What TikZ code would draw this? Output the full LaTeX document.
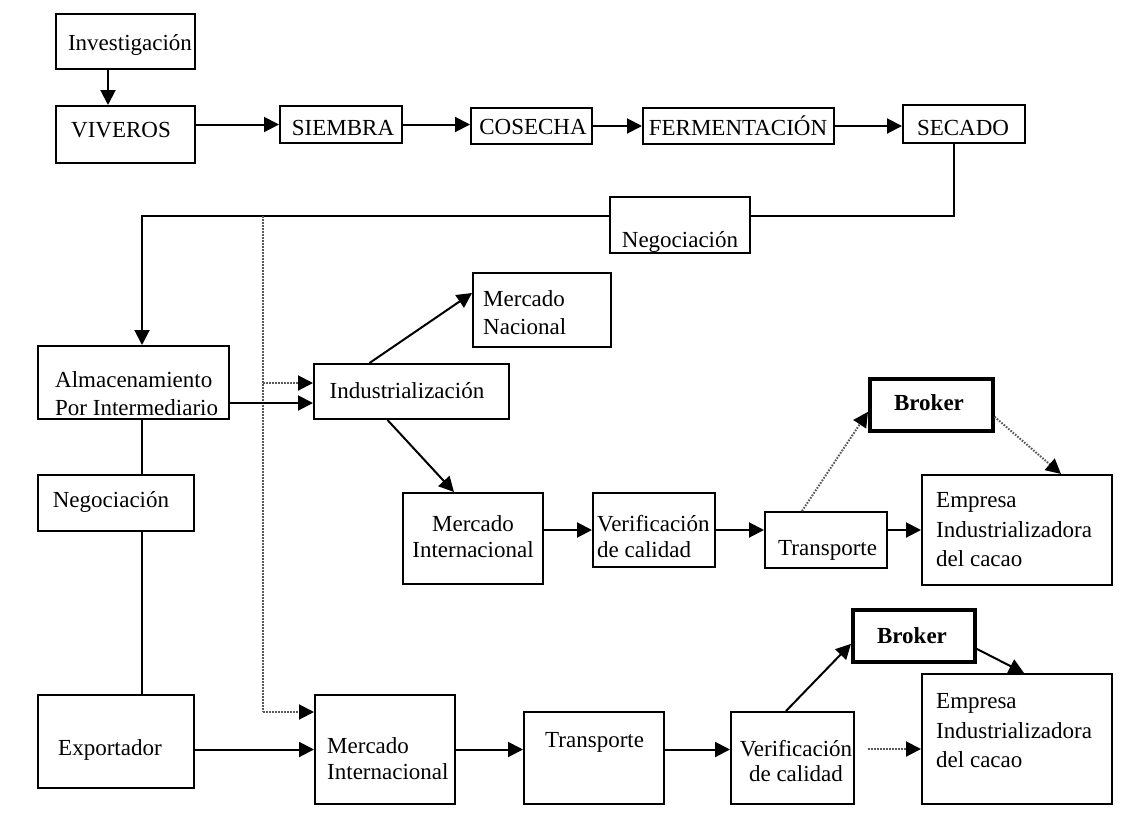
\documentclass[tikz,border=0pt]{standalone}
\usepackage{fontspec}
\setmainfont{Liberation Serif}
\usetikzlibrary{arrows.meta}
\begin{document}
\begin{tikzpicture}[x=1pt,y=-1pt,
  box/.style={draw, line width=2pt, inner sep=0pt, anchor=north west},
  bbox/.style={box, line width=3.6pt},
  mtxt/.style={inner sep=0pt, font=\fontsize{23}{#1}\selectfont},
  mtxt/.default=28,
  stxt/.style={inner sep=0pt, font=\fontsize{23}{28}\selectfont, text height=16pt, text depth=5pt},
  ln/.style={line width=2pt},
  arr/.style={line width=2pt, -{Triangle[length=15pt,width=15pt]}},
  dotarr/.style={line width=2pt, draw=black!65, dash pattern=on 1.6pt off 1.4pt, -{Triangle[length=15pt,width=15pt,color=black]}},
  dotln/.style={line width=2pt, draw=black!65, dash pattern=on 1.6pt off 1.4pt},
]
\useasboundingbox[fill=white] (0,0) rectangle (1126,817);

% boxes
\node[box, minimum width=139pt, minimum height=55pt] (inv) at (55,13) {};
\node[box, minimum width=139pt, minimum height=57pt] (viv) at (55,105) {};
\node[box, minimum width=122pt, minimum height=37pt] (sie) at (279,105) {};
\node[box, minimum width=121pt, minimum height=36pt] (cos) at (470,107) {};
\node[box, minimum width=191pt, minimum height=36pt] (fer) at (642,107) {};
\node[box, minimum width=122pt, minimum height=38pt] (sec) at (902,104) {};
\node[box, minimum width=140pt, minimum height=56pt] (neg1) at (609,196) {};
\node[box, minimum width=191pt, minimum height=73pt] (alm) at (37,345) {};
\node[box, minimum width=156pt, minimum height=56pt] (neg2) at (37,474) {};
\node[box, minimum width=156pt, minimum height=93pt] (exp) at (37,694) {};
\node[box, minimum width=195pt, minimum height=55pt] (ind) at (313,363) {};
\node[box, minimum width=138pt, minimum height=74pt] (mn) at (472,272) {};
\node[box, minimum width=140pt, minimum height=91pt] (mi1) at (402,492) {};
\node[box, minimum width=122pt, minimum height=74pt] (ver1) at (592,492) {};
\node[box, minimum width=122pt, minimum height=56pt] (tra1) at (764,511) {};
\node[box, minimum width=190pt, minimum height=110pt] (emp1) at (921,474) {};
\node[bbox, minimum width=123pt, minimum height=52pt] (bro1) at (868,377) {};
\node[box, minimum width=140pt, minimum height=109pt] (mi2) at (314,694) {};
\node[box, minimum width=140pt, minimum height=92pt] (tra2) at (523,711) {};
\node[box, minimum width=123pt, minimum height=92pt] (ver2) at (730,711) {};
\node[bbox, minimum width=122pt, minimum height=52pt] (bro2) at (851,608) {};
\node[box, minimum width=190pt, minimum height=130pt] (emp2) at (921,673) {};

% texts
\node[stxt] (inv-t) at (130,45) {Investigación};
\node[stxt, anchor=west] (viv-t) at (71,132) {VIVEROS};
\node[stxt] (sie-t) at (343,130) {SIEMBRA};
\node[stxt] (cos-t) at (533,129) {COSECHA};
\node[stxt] (fer-t) at (738,130) {FERMENTACIÓN};
\node[stxt] (sec-t) at (963,130) {SECADO};
\node[stxt] (neg1-t) at (680,242) {Negociación};
\node[mtxt, anchor=west, align=left] (alm-t) at (55,394) {Almacenamiento\\Por Intermediario};
\node[stxt] (neg2-t) at (111,502) {Negociación};
\node[stxt, anchor=west] (exp-t) at (58,750) {Exportador};
\node[stxt] (ind-t) at (407,393) {Industrialización};
\node[mtxt, anchor=west, align=left] (mn-t) at (483,313) {Mercado\\Nacional};
\node[mtxt=26, align=center] (mi1-t) at (473,537) {Mercado\\Internacional};
\node[mtxt=26, anchor=west, align=left] (ver1-t) at (597,537) {Verificación\\de calidad};
\node[stxt, anchor=west] (tra1-t) at (778,550) {Transporte};
\node[mtxt=29.5, anchor=west, align=left] (emp1-t) at (936,530) {Empresa\\Industrializadora\\del cacao};
\node[stxt, font=\fontsize{23}{28}\selectfont\bfseries] (bro1-t) at (929,405) {Broker};
\node[mtxt=26, anchor=west, align=left] (mi2-t) at (327,759) {Mercado\\Internacional};
\node[stxt, anchor=west] (tra2-t) at (545,742) {Transporte};
\node[mtxt=25, align=center] (ver2-t) at (796,761) {Verificación\\de calidad};
\node[stxt, font=\fontsize{23}{28}\selectfont\bfseries] (bro2-t) at (912,638) {Broker};
\node[mtxt=29.5, anchor=west, align=left] (emp2-t) at (936,731) {Empresa\\Industrializadora\\del cacao};

% helper coordinates
\coordinate (k1) at (954,216);
\coordinate (k2) at (142,216);
\coordinate (d1) at (263,216);
\coordinate (d2) at (263,712);
\coordinate (d3) at (263,383);

% top chain
\draw[arr] ([xshift=-17.5pt]inv.south) -- ([xshift=-17.5pt]viv.north);
\draw[arr] (viv.east |- sie.west) -- (sie.west);
\draw[arr] (sie.east) -- (sie.east -| cos.west);
\draw[arr] (cos.east) -- (cos.east -| fer.west);
\draw[arr] (fer.east) -- (fer.east -| sec.west);
\draw[ln] (sec.south -| k1) -- (k1) -- (k1 -| neg1.east);
\draw[arr] (k1 -| neg1.west) -- (k2) -- (k2 |- alm.north);

% left column
\draw[ln] (alm.south -| k2) -- (neg2.north -| k2);
\draw[ln] (neg2.south -| k2) -- (exp.north -| k2);

% dotted branch
\draw[dotln] (d1) -- (d2);
\draw[dotarr] (d2) -- (d2 -| mi2.west);
\draw[dotarr] (d3) -- (d3 -| ind.west);

% industrialization branch
\draw[arr] ([yshift=-20.5pt]alm.east) coordinate (s1) -- (s1 -| ind.west);
\draw[arr] ([xshift=-42pt]ind.north) -- ([yshift=17pt]mn.west);
\draw[arr] ([xshift=-24pt]ind.south) -- ([xshift=-19pt]mi1.north);
\draw[arr] (mi1.east |- ver1.west) -- (ver1.west);
\draw[arr] (ver1.east) -- (ver1.east -| tra1.west);
\draw[arr] (emp1.west -| tra1.east) -- (emp1.west);
\draw[dotarr] ([xshift=-24pt]tra1.north) -- ([yshift=-7pt]bro1.west);
\draw[dotarr] ([yshift=-12pt]bro1.east) -- ([xshift=44pt]emp1.north);

% export branch
\draw[arr] (exp.east |- mi2.west) -- (mi2.west);
\draw[arr] (mi2.east) -- (mi2.east -| tra2.west);
\draw[arr] (tra2.east |- mi2.east) -- (ver2.west |- mi2.east);
\draw[arr] ([xshift=-6.5pt]ver2.north) -- ([yshift=-8pt]bro2.west);
\draw[arr] ([yshift=-13pt]bro2.east) -- ([xshift=7pt]emp2.north);
\draw[dotarr] ([xshift=-53pt,yshift=-10pt]emp2.west) -- ([yshift=-10pt]emp2.west);
\end{tikzpicture}
\end{document}
